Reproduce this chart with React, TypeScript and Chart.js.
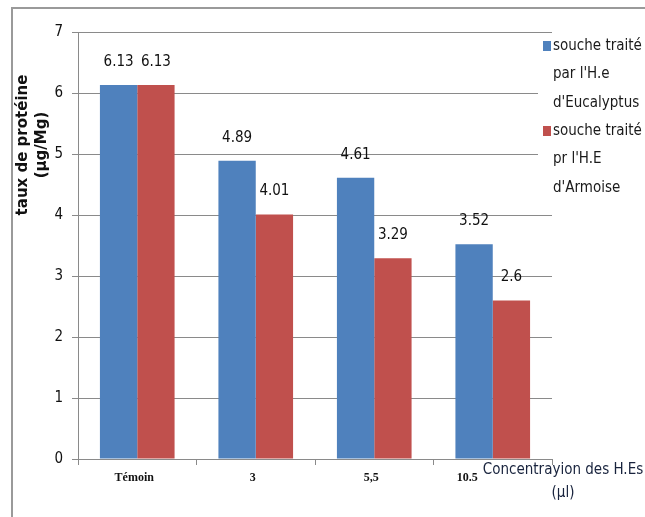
import React, { useEffect, useRef } from "react";
import { Chart, registerables } from "chart.js";

Chart.register(...registerables);

// Concentration groups on the x axis
const categories = ["Témoin", "3", "5,5", "10.5"];
// Protein content (µg/Mg) per treatment
const eucalyptusValues = [6.13, 4.89, 4.61, 3.52];
const armoiseValues = [6.13, 4.01, 3.29, 2.6];
const yMin = 0;
const yMax = 7;

const eucalyptusLegend = ["souche traité", "par l'H.e", "d'Eucalyptus"];
const armoiseLegend = ["souche traité", "pr l'H.E", "d'Armoise"];
const yTitleLines = ["taux de protéine", "(µg/Mg)"];
const xTitleLines = ["Concentrayion des H.Es", "(µl)"];

const BLUE = "#4F81BD";
const RED = "#C0504D";
const GRID = "#8a8a8a";
const NARROW = "'Liberation Sans Narrow', 'DejaVu Sans Condensed', sans-serif";
const TICKFONT = "'DejaVu Sans Condensed', 'DejaVu Sans', sans-serif";

const decorPlugin = {
  id: "decor",
  beforeDraw(chart: any) {
    const ctx = chart.ctx;
    ctx.save();
    ctx.fillStyle = "#ffffff";
    ctx.fillRect(0, 0, chart.width, chart.height);
    // outer frame (top and left edges visible)
    ctx.strokeStyle = "#9a9a9a";
    ctx.lineWidth = 2;
    ctx.beginPath();
    ctx.moveTo(12, chart.height);
    ctx.lineTo(12, 8);
    ctx.lineTo(chart.width, 8);
    ctx.stroke();
    ctx.restore();
  },
  afterDatasetsDraw(chart: any) {
    const ctx = chart.ctx;
    ctx.save();
    ctx.fillStyle = "#111";
    ctx.font = `15px ${TICKFONT}`;
    ctx.textAlign = "center";
    ctx.textBaseline = "middle";
    chart.data.datasets.forEach((ds: any, di: number) => {
      const meta = chart.getDatasetMeta(di);
      meta.data.forEach((el: any, i: number) => {
        ctx.fillText(String(ds.data[i]), el.x, el.y - 23);
      });
    });
    ctx.restore();
  },
  afterDraw(chart: any) {
    const ctx = chart.ctx;
    const area = chart.chartArea;
    const xScale = chart.scales.x;
    ctx.save();

    // legend block
    const lx = area.right - 14;
    ctx.fillStyle = "#ffffff";
    ctx.fillRect(lx, 36, chart.width - lx, 165);
    const drawEntry = (color: string, lines: string[], y0: number) => {
      ctx.fillStyle = color;
      ctx.fillRect(lx + 5, y0 - 5, 8, 10);
      ctx.fillStyle = "#1a1a1a";
      ctx.font = `15px ${NARROW}`;
      ctx.textAlign = "left";
      ctx.textBaseline = "middle";
      lines.forEach((t, k) => ctx.fillText(t, lx + 15, y0 + k * 28.5));
    };
    drawEntry(BLUE, eucalyptusLegend, 46);
    drawEntry(RED, armoiseLegend, 131);

    // category labels
    ctx.fillStyle = "#111";
    ctx.font = `bold 12px 'Liberation Serif', serif`;
    ctx.textBaseline = "middle";
    categories.forEach((c, i) => {
      const x = xScale.getPixelForValue(i);
      if (i === categories.length - 1) {
        ctx.textAlign = "right";
        ctx.fillText(c, x - 15, area.bottom + 19);
      } else {
        ctx.textAlign = "center";
        ctx.fillText(c, x - 3, area.bottom + 19);
      }
    });

    // x axis title
    ctx.fillStyle = "#18233d";
    ctx.font = `15px ${NARROW}`;
    ctx.textAlign = "center";
    ctx.fillText(xTitleLines[0], area.right + 11, area.bottom + 11);
    ctx.fillText(xTitleLines[1], area.right + 11, area.bottom + 34);

    // y axis title
    ctx.fillStyle = "#111";
    ctx.font = `bold 15px 'DejaVu Sans', sans-serif`;
    ctx.translate(23, 145);
    ctx.rotate(-Math.PI / 2);
    ctx.fillText(yTitleLines[0], 0, 0);
    ctx.fillText(yTitleLines[1], 0, 19);
    ctx.restore();
  },
};

export default function App() {
  const ref = useRef<HTMLCanvasElement | null>(null);

  useEffect(() => {
    document.body.style.margin = "0";
    const canvas = ref.current;
    if (!canvas) return;
    const chart = new Chart(canvas, {
      type: "bar",
      data: {
        labels: categories,
        datasets: [
          {
            label: eucalyptusLegend.join(" "),
            data: eucalyptusValues,
            backgroundColor: BLUE,
            borderWidth: 0,
          },
          {
            label: armoiseLegend.join(" "),
            data: armoiseValues,
            backgroundColor: RED,
            borderWidth: 0,
          },
        ],
      },
      options: {
        animation: false,
        responsive: false,
        devicePixelRatio: 1,
        layout: { padding: { left: 0, top: 32, right: 93, bottom: 0 } },
        datasets: {
          bar: { categoryPercentage: 0.63, barPercentage: 1.0 },
        },
        plugins: {
          legend: { display: false },
          tooltip: { enabled: false },
          title: { display: false },
        },
        scales: {
          x: {
            type: "category",
            offset: true,
            grid: {
              offset: true,
              display: true,
              drawOnChartArea: false,
              drawTicks: true,
              tickLength: 6,
              color: GRID,
            },
            border: { display: true, color: GRID, width: 1 },
            ticks: { display: false },
            afterFit(scale: any) {
              scale.height = 58;
            },
          },
          y: {
            min: yMin,
            max: yMax,
            ticks: {
              stepSize: 1,
              color: "#111",
              padding: 9,
              font: { family: TICKFONT, size: 15 },
            },
            grid: {
              color: GRID,
              lineWidth: 1,
              tickLength: 6,
            },
            border: { display: true, color: GRID, width: 1 },
            afterFit(scale: any) {
              scale.width = 78;
            },
          },
        },
      },
      plugins: [decorPlugin],
    });
    return () => chart.destroy();
  }, []);

  return (
    <div style={{ position: "fixed", left: 0, top: 0, width: 645, height: 517 }}>
      <canvas ref={ref} width={645} height={517} style={{ width: 645, height: 517 }} />
    </div>
  );
}
